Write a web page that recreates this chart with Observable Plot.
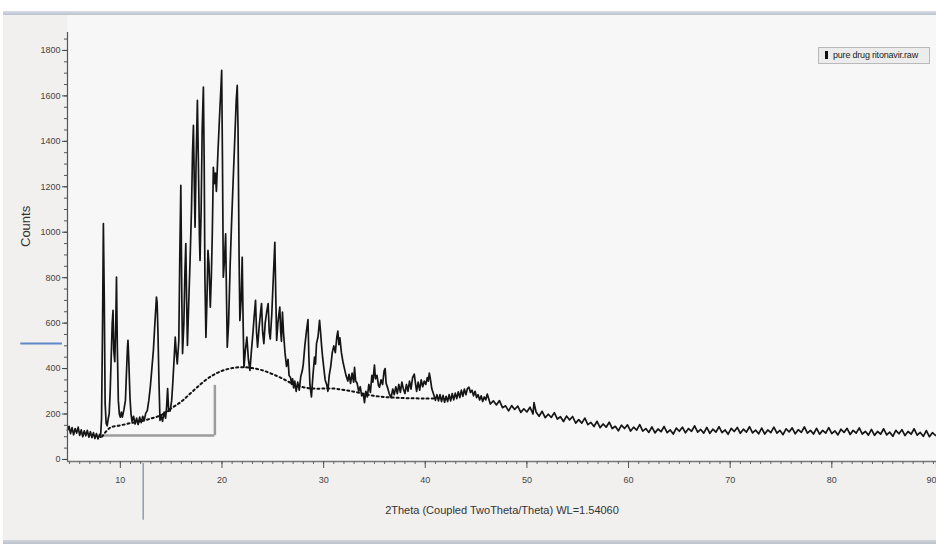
<!DOCTYPE html>
<html>
<head>
<meta charset="utf-8">
<script src="https://cdn.jsdelivr.net/npm/d3@7"></script>
<script src="https://cdn.jsdelivr.net/npm/@observablehq/plot@0.6"></script>
<style>
  html, body { margin: 0; padding: 0; background: #fff; }
  #wrap { position: relative; width: 936px; height: 547px; background: #fff; overflow: hidden;
          font-family: 'Liberation Sans', Arial, sans-serif; }
  .layer { position: absolute; }
  #panel { left: 3px; top: 15px; width: 933px; height: 525px; background: #f1f0ee; }
  #plotbg { left: 67px; top: 15px; width: 869px; height: 446px; background: #f7f7f7; }
  #bartop { left: 3px; top: 11px; width: 933px; height: 4px; background: linear-gradient(#d9dee6, #b8c1cd); }
  #barbot { left: 3px; top: 540px; width: 933px; height: 4px; background: linear-gradient(#cfd4db, #bcc3cc); }
  #chart { left: 0; top: 0; }
  #legend { left: 818px; top: 47px; width: 112px; height: 17px; border: 1px solid #b9b9b9;
            background: #ececec; box-sizing: border-box; font-size: 9px; color: #222; line-height: 15px; }
  #legend .sw { position: absolute; left: 6px; top: 3px; width: 3px; height: 8px; background: #111; }
  #legend .tx { position: absolute; left: 14px; top: 0; white-space: nowrap; letter-spacing: -0.2px; }
</style>
</head>
<body>
<div id="wrap">
  <div class="layer" id="panel"></div>
  <div class="layer" id="plotbg"></div>
  <div class="layer" id="bartop"></div>
  <div class="layer" id="barbot"></div>
  <div class="layer" id="chart"></div>
  <div class="layer" id="legend"><span class="sw"></span><span class="tx"></span></div>
</div>
<script>
// ---- data ----
const seriesName = "pure drug ritonavir.raw";
const xTitle = "2Theta (Coupled TwoTheta/Theta) WL=1.54060";
const yTitle = "Counts";
const xMajorTicks = [10, 20, 30, 40, 50, 60, 70, 80, 90];
const yMajorTicks = [0, 200, 400, 600, 800, 1000, 1200, 1400, 1600, 1800];

// measured pattern: [2theta, counts]
const pattern = [
[4.8,128],[4.95,146],[5.1,114],[5.25,140],[5.4,108],[5.55,136],[5.7,116],[5.85,142],[6.0,106],[6.15,130],
[6.3,100],[6.45,126],[6.6,104],[6.75,128],[6.9,98],[7.05,122],[7.2,96],[7.35,118],[7.5,92],[7.65,114],
[7.8,90],[7.95,110],[8.05,98],[8.15,180],[8.25,600],[8.33,1038],[8.42,700],[8.5,250],[8.6,160],[8.7,148],
[8.8,178],[8.9,200],[9.0,300],[9.1,450],[9.2,600],[9.28,656],[9.35,480],[9.45,430],[9.55,600],[9.62,802],
[9.7,500],[9.8,260],[9.9,200],[10.0,186],[10.1,208],[10.2,186],[10.35,218],[10.5,260],[10.6,380],[10.7,490],
[10.75,524],[10.82,450],[10.95,270],[11.05,200],[11.15,168],[11.3,190],[11.45,156],[11.6,182],[11.75,154],[11.9,186],
[12.05,162],[12.2,190],[12.35,172],[12.5,204],[12.65,215],[12.8,260],[12.95,320],[13.1,400],[13.25,480],[13.4,600],
[13.55,714],[13.62,690],[13.7,560],[13.8,340],[13.9,172],[14.0,194],[14.15,168],[14.3,208],[14.45,182],[14.55,232],
[14.65,312],[14.75,212],[14.9,214],[15.05,260],[15.15,330],[15.3,450],[15.4,538],[15.5,470],[15.6,420],[15.75,520],
[15.85,900],[15.95,1206],[16.05,700],[16.12,466],[16.25,600],[16.35,820],[16.44,950],[16.52,700],[16.6,502],[16.7,650],
[16.86,876],[17.0,1100],[17.1,1350],[17.19,1470],[17.28,1200],[17.35,1022],[17.45,1300],[17.58,1580],[17.68,1300],[17.78,980],
[17.84,876],[17.95,1100],[18.05,1450],[18.17,1639],[18.25,1300],[18.32,800],[18.42,537],[18.52,700],[18.62,920],[18.72,860],
[18.85,670],[18.95,800],[19.05,1000],[19.15,1286],[19.25,1214],[19.35,1260],[19.45,1180],[19.6,1350],[19.75,1500],[19.9,1640],
[19.97,1712],[20.05,1300],[20.13,802],[20.25,880],[20.36,993],[20.45,700],[20.52,494],[20.65,600],[20.8,850],[20.95,1050],
[21.1,1228],[21.25,1400],[21.4,1580],[21.5,1646],[21.58,1450],[21.68,900],[21.76,612],[21.88,700],[21.99,890],[22.08,600],
[22.16,406],[22.3,480],[22.45,538],[22.6,440],[22.75,392],[22.9,480],[23.05,560],[23.15,620],[23.3,700],[23.4,560],
[23.5,494],[23.65,580],[23.78,640],[23.89,686],[24.0,560],[24.12,510],[24.25,600],[24.4,650],[24.54,686],[24.65,560],
[24.75,530],[24.9,640],[25.05,800],[25.2,956],[25.3,700],[25.38,524],[25.5,600],[25.6,640],[25.69,670],[25.78,560],
[25.85,520],[25.95,648],[26.05,560],[26.2,470],[26.35,410],[26.5,440],[26.6,370],[26.75,360],[26.85,330],[26.95,355],
[27.05,315],[27.16,345],[27.3,300],[27.45,340],[27.6,305],[27.75,365],[27.9,390],[28.0,420],[28.15,500],[28.3,560],
[28.46,615],[28.55,450],[28.65,330],[28.8,275],[28.95,370],[29.1,450],[29.2,420],[29.3,510],[29.45,540],[29.6,612],
[29.7,560],[29.8,500],[29.9,450],[30.05,390],[30.15,350],[30.3,330],[30.42,300],[30.55,370],[30.7,410],[30.85,470],
[31.0,500],[31.15,470],[31.3,540],[31.4,565],[31.5,505],[31.6,535],[31.75,470],[31.9,430],[32.05,400],[32.2,370],
[32.38,345],[32.5,375],[32.65,335],[32.8,380],[32.95,340],[33.04,405],[33.15,345],[33.3,335],[33.45,300],[33.6,320],
[33.75,280],[33.9,290],[34.02,250],[34.15,300],[34.3,275],[34.45,330],[34.6,295],[34.75,370],[34.85,340],[35.0,415],
[35.1,355],[35.25,370],[35.4,325],[35.5,318],[35.65,350],[35.8,330],[35.95,390],[36.05,400],[36.15,335],[36.3,315],
[36.45,290],[36.64,272],[36.8,310],[36.95,285],[37.1,320],[37.25,290],[37.4,330],[37.55,295],[37.7,340],[37.85,310],
[38.0,290],[38.15,330],[38.3,300],[38.45,345],[38.6,310],[38.75,360],[38.92,375],[39.05,330],[39.15,300],[39.3,340],
[39.45,305],[39.6,350],[39.75,320],[39.9,345],[40.05,330],[40.2,360],[40.3,345],[40.4,380],[40.5,355],[40.65,310],
[40.8,290],[41.0,260],[41.15,285],[41.3,258],[41.45,285],[41.6,255],[41.75,282],[41.9,252],[42.05,278],[42.2,255],
[42.35,285],[42.5,258],[42.65,290],[42.8,262],[42.95,292],[43.1,268],[43.25,298],[43.4,272],[43.55,305],[43.7,278],
[43.85,310],[44.0,285],[44.15,312],[44.3,318],[44.45,295],[44.6,305],[44.75,280],[44.9,300],[45.05,272],[45.2,285],
[45.35,262],[45.5,280],[45.65,255],[45.8,275],[45.95,262],[46.1,288],[46.4,244],[46.7,258],[47.0,240],[47.3,259],
[47.6,228],[47.9,236],[48.2,214],[48.5,237],[48.8,220],[49.1,235],[49.4,207],[49.7,223],[50.0,209],[50.3,230],
[50.6,200],[50.7,250],[50.9,209],[51.2,190],[51.5,212],[51.8,184],[52.1,199],[52.4,185],[52.7,206],[53.0,178],
[53.3,188],[53.6,167],[53.9,191],[54.2,174],[54.5,189],[54.8,160],[55.1,175],[55.4,160],[55.7,182],[56.0,153],
[56.3,163],[56.6,145],[56.9,168],[57.2,140],[57.5,156],[57.8,142],[58.1,164],[58.4,136],[58.7,146],[59.0,126],
[59.3,151],[59.6,136],[59.9,152],[60.2,125],[60.5,142],[60.8,129],[61.1,153],[61.4,125],[61.7,136],[62.0,119],
[62.3,143],[62.6,117],[62.9,134],[63.2,122],[63.5,145],[63.8,118],[64.1,130],[64.4,112],[64.7,138],[65.0,124],
[65.3,142],[65.6,117],[65.9,136],[66.2,124],[66.5,148],[66.8,120],[67.1,132],[67.4,116],[67.7,141],[68.0,115],
[68.3,133],[68.6,120],[68.9,144],[69.2,118],[69.5,130],[69.8,111],[70.1,137],[70.4,123],[70.7,141],[71.0,115],
[71.3,133],[71.6,120],[71.9,144],[72.2,117],[72.5,129],[72.8,113],[73.1,138],[73.4,112],[73.7,130],[74.0,118],
[74.3,142],[74.6,116],[74.9,128],[75.2,109],[75.5,135],[75.8,121],[76.1,139],[76.4,113],[76.7,131],[77.0,119],
[77.3,143],[77.6,116],[77.9,128],[78.2,112],[78.5,137],[78.8,111],[79.1,128],[79.4,116],[79.7,140],[80.0,114],
[80.3,126],[80.6,108],[80.9,133],[81.2,119],[81.5,137],[81.8,110],[82.1,128],[82.4,116],[82.7,139],[83.0,112],
[83.3,124],[83.6,107],[83.9,132],[84.2,106],[84.5,123],[84.8,111],[85.1,135],[85.4,108],[85.7,120],[86.0,102],
[86.3,128],[86.6,113],[86.9,131],[87.2,105],[87.5,123],[87.8,111],[88.1,135],[88.4,107],[88.7,119],[89.0,102],
[89.3,127],[89.6,100],[89.9,118],[90.2,106]
];

// fitted background (dotted curve): [2theta, counts]
const background = [
[8.2,100],[9,140],[10,150],[11,160],[12,168],[13,180],[14,195],[15,225],[16,255],[17,295],
[18,335],[19,368],[20,390],[21,402],[22,406],[23,402],[24,392],[25,375],[26,355],[27,332],
[28,318],[29,312],[30,312],[31,312],[32,306],[33,298],[34,288],[35,280],[36,275],[37,272],
[38,270],[39,269],[40,268],[40.8,268]
];

// on-screen cursor / selection artefacts in data units
const bracketLevel = 105, bracketFrom = 8.2, bracketTo = 19.3, bracketTop = 326;
const cursorLevel = 510, cursorFrom = 0.2, cursorTo = 4.3;
const cursorX = 12.25, cursorBottom = -18, cursorEnd = -268;

// ---- build ----
const xMinorTicks = d3.range(5, 91, 1);
const yMinorTicks = d3.range(0, 1851, 50);
const rows = pattern.map(([t, c]) => ({t, c}));
const bgRows = background.map(([t, c]) => ({t, c}));
const xDomain = [4.8, 90.3];
const yDomain = [-9, 1879];
const font = "'Liberation Sans', Arial, sans-serif";

const chart = Plot.plot({
  width: 936,
  height: 547,
  marginTop: 32,
  marginBottom: 86,
  marginLeft: 67,
  marginRight: 0,
  style: { background: "transparent", fontFamily: font, color: "#333" },
  x: { domain: xDomain },
  y: { domain: yDomain },
  marks: [
    // selection bracket
    Plot.ruleY([bracketLevel], { x1: bracketFrom, x2: bracketTo, stroke: "#9c9c9c", strokeWidth: 2.5 }),
    Plot.ruleX([bracketTo], { y1: bracketLevel, y2: bracketTop, stroke: "#9c9c9c", strokeWidth: 2.5 }),
    // background curve
    Plot.line(bgRows, { x: "t", y: "c", stroke: "#111", strokeWidth: 2, strokeDasharray: "2,3", curve: "catmull-rom" }),
    // pattern
    Plot.line(rows, { x: "t", y: "c", stroke: "#151515", strokeWidth: 1.7, strokeLinejoin: "round" }),
    // axes
    Plot.ruleX([xDomain[0]], { stroke: "#555", strokeWidth: 1.2 }),
    Plot.ruleY([yDomain[0]], { stroke: "#777", strokeWidth: 1.5 }),
    Plot.axisY({ ticks: yMinorTicks, tickSize: 3, tickFormat: () => "", label: null, stroke: "#555" }),
    Plot.axisY({ ticks: yMajorTicks, tickSize: 5, tickPadding: 2, tickFormat: d3.format("d"), fontSize: 9, label: null, stroke: "#444", fill: "#444" }),
    Plot.axisX({ ticks: xMinorTicks, tickSize: 3, tickFormat: () => "", label: null, stroke: "#666" }),
    Plot.axisX({ ticks: xMajorTicks.slice(0, -1), tickSize: 7, tickPadding: 8, fontSize: 9, label: null, stroke: "#555", fill: "#444" }),
    Plot.axisX({ ticks: xMajorTicks.slice(-1), tickSize: 7, tickPadding: 8, fontSize: 9, label: null, stroke: "#555", fill: "#444", textAnchor: "end", dx: 3 }),
    // axis titles
    Plot.text([yTitle], { frameAnchor: "left", rotate: -90, dx: -42, fontSize: 13, fill: "#333", letterSpacing: "1px" }),
    Plot.text([xTitle], { frameAnchor: "bottom", dy: 52, fontSize: 11, fill: "#333" }),
    // cursor artefacts
    Plot.ruleY([cursorLevel], { x1: cursorFrom, x2: cursorTo, stroke: "#5f86c6", strokeWidth: 2 }),
    Plot.ruleX([cursorX], { y1: cursorBottom, y2: cursorEnd, stroke: "#8d9db6", strokeWidth: 1.5 })
  ]
});
document.getElementById("chart").appendChild(chart);
document.querySelector("#legend .tx").textContent = seriesName;
</script>
</body>
</html>
